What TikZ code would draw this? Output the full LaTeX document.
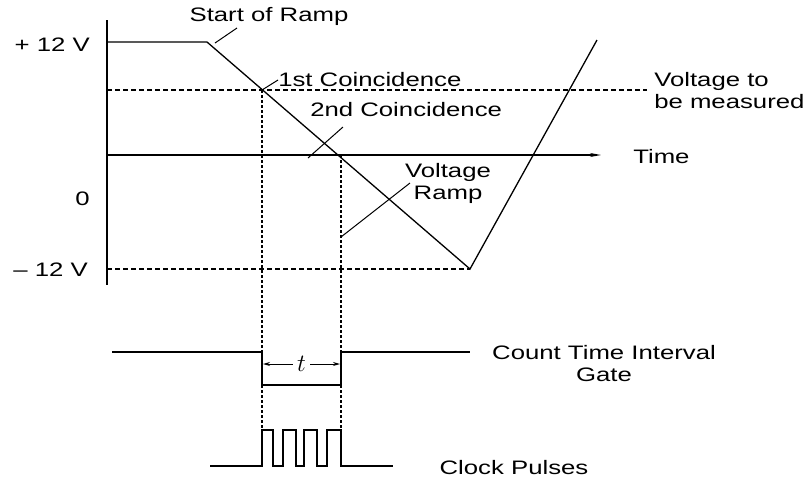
\documentclass[tikz,border=0pt]{standalone}
\usepackage{fontspec}
\setmainfont{Liberation Sans}
\usetikzlibrary{arrows.meta}
\begin{document}
\begin{tikzpicture}[
    x=1pt, y=-1pt,
    wave/.style={line width=1.3pt},
    guide/.style={line width=1.1pt, dash pattern=on 5pt off 3pt},
    drop/.style={line width=1.3pt, dash pattern=on 3pt off 2pt},
    lead/.style={line width=1pt},
    lbl/.style={font=\fontsize{19.5}{22}\selectfont, xscale=1.32, inner sep=0pt}
]
    \useasboundingbox (0,0) rectangle (812,480);

    % --- Axes and levels ---
    \draw[line width=1.8pt] (107,20) -- (107,285);
    \node[lbl, anchor=east] (plus12) at (90,45) {+ 12 V};
    \node[lbl, anchor=east] (zero) at (90,199) {0};
    \node[lbl, anchor=east] (minus12) at (88,270) {-- 12 V};
    \draw[line width=1.3pt, -{Stealth[length=11pt,width=4pt]}] (107,155) -- (601,155);
    \node[lbl, anchor=west] (time) at (633,157) {Time};
    \draw[guide] (107,90) -- (647,90);
    \node[lbl, anchor=west, align=left] (vmeas) at (654,91) {Voltage to\\be measured};
    \draw[guide] (107,269) -- (470,269);

    % --- Ramp ---
    \coordinate (v0) at (107,42);
    \coordinate (rs) at (207,42);
    \coordinate (rb) at (470,269);
    \coordinate (rt) at (597,40);
    \draw[wave] (v0) -- (rs) -- (rb) -- (rt);

    % Labels with leaders
    \node[lbl] (start) at (269,16) {Start of Ramp};
    \draw[lead] (215,43) -- (237,28);
    \node[lbl, anchor=west] (first) at (278,80) {1st Coincidence};
    \draw[lead] (262,90) -- (first.west);
    \node[lbl, anchor=west] (second) at (310,110) {2nd Coincidence};
    \draw[lead] (308,158) -- (343,127);
    \node[lbl, align=center] (vramp) at (448,183) {Voltage\\Ramp};
    \draw[lead] (341,237) -- (410,183);

    % --- Coincidence drops ---
    \coordinate (c1) at (262,90);
    \coordinate (c2) at (341,155);
    \draw[drop] (c1) -- (262,430);
    \draw[drop] (c2) -- (341,430);

    % --- Gate ---
    \draw[wave] (112,352) -- (262,352) -- (262,385) -- (341,385) -- (341,352) -- (470,352);
    \draw[line width=1pt, {Stealth[length=7pt,width=4pt]}-{Stealth[length=7pt,width=4pt]}]
        (263,364) -- node[fill=white, inner sep=4pt, font=\fontsize{24}{26}\selectfont] (tlbl) {$t$} (340,364);
    \node[lbl, align=center] (gate) at (604,364) {Count Time Interval\\Gate};

    % --- Clock pulses ---
    \draw[wave] (210,466) -- (262,466) -- (262,430) -- (273,430) -- (273,466) -- (283,466)
        -- (283,430) -- (296,430) -- (296,466) -- (304,466) -- (304,430) -- (317,430)
        -- (317,466) -- (327,466) -- (327,430) -- (341,430) -- (341,466) -- (393,466);
    \node[lbl] (clock) at (514,468) {Clock Pulses};
\end{tikzpicture}
\end{document}
